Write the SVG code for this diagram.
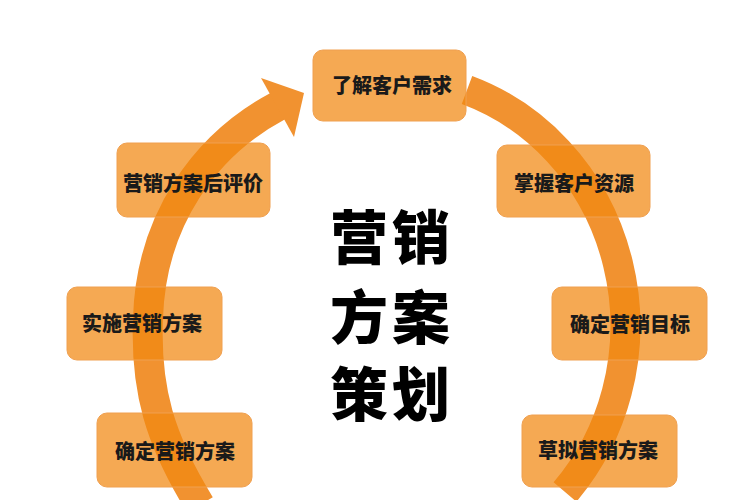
<svg xmlns="http://www.w3.org/2000/svg" width="750" height="500" viewBox="0 0 750 500">
<style>
.band{fill:none;stroke:#F19230;stroke-width:30;stroke-linecap:butt}
.head{fill:#F19230}
.box{fill:#F18810;fill-opacity:0.72;stroke:#F0A050;stroke-width:1}
.lbl{font-family:"Noto Sans CJK SC","Noto Sans",sans-serif;font-weight:900;font-size:20px;fill:#1a1a1a;text-anchor:middle;dominant-baseline:central}
.title{font-family:"Noto Sans CJK SC","Noto Sans",sans-serif;font-weight:900;font-size:58px;fill:#000;text-anchor:middle;letter-spacing:4px}
</style>
<rect width="750" height="500" fill="#fff"/>
<g id="connectors">
<path class="band" d="M 200 505 C 160 440, 145 390, 148 318 C 151 220, 205 145, 278 106"/>
<polygon class="head" points="261,78 304,93 294,137"/>
<path class="band" d="M 467 90 A 238 250 0 0 1 565 492"/>
</g>
<g id="title">
<text class="title" x="392" y="259">营销</text>
<text class="title" x="392" y="339">方案</text>
<text class="title" x="392" y="416">策划</text>
</g>
<g id="n1"><rect class="box" x="313" y="50" width="153" height="71" rx="10"/><text class="lbl" x="392" y="84">了解客户需求</text></g>
<g id="n2"><rect class="box" x="497" y="145" width="153" height="72" rx="10"/><text class="lbl" x="574" y="182">掌握客户资源</text></g>
<g id="n3"><rect class="box" x="552" y="287" width="155" height="73" rx="10"/><text class="lbl" x="630" y="323">确定营销目标</text></g>
<g id="n4"><rect class="box" x="522" y="415" width="155" height="72" rx="10"/><text class="lbl" x="598" y="449">草拟营销方案</text></g>
<g id="n5"><rect class="box" x="97" y="413" width="155" height="74" rx="10"/><text class="lbl" x="175" y="450">确定营销方案</text></g>
<g id="n6"><rect class="box" x="67" y="287" width="155" height="73" rx="10"/><text class="lbl" x="142" y="322">实施营销方案</text></g>
<g id="n7"><rect class="box" x="117" y="143" width="153" height="74" rx="10"/><text class="lbl" x="193" y="182">营销方案后评价</text></g>
</svg>
